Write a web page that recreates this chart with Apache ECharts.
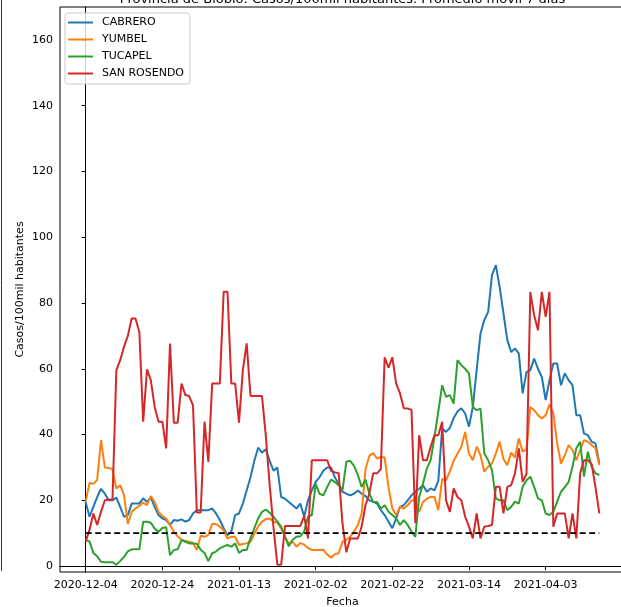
<!DOCTYPE html>
<html>
<head>
<meta charset="utf-8">
<script src="https://cdn.jsdelivr.net/npm/echarts@6/dist/echarts.min.js"></script>
<style>
html, body { margin: 0; padding: 0; background: #fff; }
#chart { width: 621px; height: 607px; }
</style>
</head>
<body>
<div id="chart"></div>
<script>
// ticks del eje x (dias desde 2020-12-04) y sus etiquetas
var tickDias = [0, 20, 40, 60, 80, 100, 120];
var tickFechas = ['2020-12-04', '2020-12-24', '2021-01-13', '2021-02-02', '2021-02-22', '2021-03-14', '2021-04-03'];
var yTicks = [0, 20, 40, 60, 80, 100, 120, 140, 160];
var umbral = 10;
var comunas = ['CABRERO', 'YUMBEL', 'TUCAPEL', 'SAN ROSENDO'];
var colores = ['#1f77b4', '#ff7f0e', '#2ca02c', '#d62728'];

// casos/100mil hab, promedio movil 7 dias, un valor por dia desde 2020-12-04
var cabrero = [
	19.4, 15, 18, 21, 23.5, 22, 20, 20, 20.8, 18,
	15, 15.5, 19, 19, 19, 20.6, 19.5, 20.8, 18, 15.5,
	14.5, 14, 12.5, 14, 13.8, 14.2, 13.5, 14, 16, 17,
	17, 17, 17, 17.5, 16, 14, 11.5, 9.4, 10.5, 15.5,
	16, 19, 23, 27, 32, 36, 34.5, 35.5, 32, 29,
	30, 21, 20.5, 19.5, 18.5, 17.5, 19, 15, 20, 23,
	25.6, 27, 29, 30, 30, 27, 25, 22.6, 22, 21.5,
	22, 23, 22, 21.3, 20, 19.5, 19, 17, 15.5, 13.5,
	11.5, 14.5, 18, 18.5, 20, 21.5, 22.6, 23.5, 24.6, 22.6,
	23.6, 23, 26, 41.8, 40.8, 42, 45, 47, 48, 46.4,
	42.4, 48.4, 59.6, 70.7, 74.8, 77.3, 88.5, 91.5, 84.9, 76.8,
	68.7, 65.1, 66.2, 64.6, 52.5, 59, 59.6, 63.1, 60, 57.5,
	50.5, 56.5, 61.6, 61.6, 55, 58.6, 56.5, 55, 45.9, 45.9,
	40.3, 39.8, 37.8, 37.3, 31.2
];
var yumbel = [
	19.6, 25.3, 25, 26.2, 38.3, 30, 29.8, 29.5, 23.6, 24.6,
	21.6, 12.8, 16.5, 17.5, 18.3, 19.3, 18.5, 21.3, 19.5, 16.5,
	15.2, 14.5, 12.5, 10.5, 9, 8, 7.6, 7.4, 7, 4.9,
	9.2, 8.9, 9.5, 12.8, 12.8, 12, 10.9, 8.4, 8.9, 8.9,
	6.4, 6.7, 6.9, 7.4, 9.9, 12, 13.5, 14.3, 14.5, 13.5,
	13.2, 11.4, 8.9, 6.9, 7.4, 5.9, 7, 6.5, 5.5, 4.9,
	4.9, 4.9, 5, 3.5, 2.5, 3.6, 3.9, 7.4, 8, 8.9,
	10.5, 12.5, 16, 29.5, 33.5, 34.4, 32.7, 33.2, 33, 24,
	17.5, 15.5, 18, 17.5, 18.5, 20, 20, 16.5, 19.5, 20.5,
	21, 21, 17, 26.5, 26.1, 28.7, 32, 34.2, 36.3, 40.8,
	34.2, 32.2, 36.3, 33.7, 28.7, 30.2, 31.2, 34.2, 37.8, 32.5,
	30.7, 34.5, 33, 38.8, 34.8, 35.5, 48.4, 47.4, 45.9, 44.9,
	45.9, 49.2, 46.4, 37.3, 31.2, 33.7, 36.8, 35.3, 32.2, 35.3,
	38.3, 37.8, 36.8, 35.8, 30.7
];
var tucapel = [
	7.9, 7.5, 4, 3, 1.3, 1.2, 1.2, 1.2, 0.4, 1.5,
	2.8, 4.5, 5.1, 5.1, 5.1, 13.5, 13.5, 13.2, 11.4, 10.4,
	11.6, 11.8, 3.3, 4.9, 5.1, 7.9, 7.4, 6.9, 6.9, 6.8,
	5, 4, 1.5, 3.9, 4.4, 5.4, 6, 6.4, 5.9, 6.9,
	4, 4.9, 4.9, 8.5, 11.5, 14.5, 16.5, 17.2, 16.2, 15,
	13.5, 12, 8.9, 6, 8, 8.9, 9.1, 10.5, 15, 15.5,
	25, 22, 21.5, 24, 26.3, 25.6, 24.6, 23.1, 31.7, 32,
	30.5, 27.7, 24.1, 26.3, 22, 19.5, 19.5, 17.5, 18.5, 16.5,
	15.5, 14.5, 12.5, 14, 12.5, 10.5, 8.9, 21, 25, 29.7,
	32.2, 39.3, 47, 55, 51.5, 52, 49.4, 62.6, 61.1, 60,
	58.6, 48.4, 47.4, 47.9, 34.2, 32.2, 29.2, 20.6, 20, 20,
	17, 18, 19.6, 19, 24.1, 26.1, 27.2, 24.1, 20.6, 20,
	16, 15.5, 16.5, 19.6, 22.6, 24, 25.6, 30.2, 35.8, 37.8,
	27.2, 34.8, 30.2, 28.2, 27.7
];
var sanRosendo = [
	7.5, 11, 16, 12.5, 16.5, 20, 20.2, 20.3, 59.6, 62.6,
	66.7, 70, 75.3, 75.3, 71.2, 43.9, 59.8, 56.5, 48.4, 43.9,
	43.9, 35.8, 67.7, 43.6, 43.6, 55.5, 52, 51.7, 48.9, 16.3,
	16.3, 43.9, 31.7, 55.5, 55.5, 55.5, 83.4, 83.4, 55.5, 55.5,
	43.6, 59.6, 67.7, 51.7, 51.7, 51.7, 51.7, 39.5, 24.6, 11.8,
	0.4, 0.4, 12.2, 12.2, 12.2, 12.2, 12.2, 15.2, 8.4, 32.2,
	32.2, 32.2, 32.2, 32.2, 29, 28.5, 28.2, 13, 4.2, 8.4,
	8.4, 8.4, 12, 18.5, 22, 28.2, 28.2, 29.5, 63.5, 60.3,
	63.5, 55.5, 52.5, 48, 47.9, 47.5, 13, 39.8, 32.2, 32.2,
	36.3, 39.8, 39.8, 43.9, 20, 16.5, 23.6, 21, 20, 15,
	12, 8.4, 16, 8.4, 12, 12.2, 12.5, 24.1, 24.1, 16,
	24.1, 24.6, 28.2, 35.8, 25.6, 28, 83.4, 76.3, 71.7, 83.4,
	75.8, 83.4, 12, 16, 16, 16, 8.4, 16, 8.4, 28.2,
	32.2, 32.2, 31, 24, 16
];

var fuente = 'DejaVu Sans';

var aPares = function(valores) {
	var pares = [];
	for (var i = 0; i < valores.length; i++) {
		pares.push([i, valores[i]]);
	}
	return pares;
};

var myChart = echarts.init(document.getElementById('chart'));
var ultimoDia = cabrero.length - 1;
var margen = ultimoDia * 0.05;

var series = [cabrero, yumbel, tucapel, sanRosendo].map(function(valores, k) {
	return {
		name: comunas[k],
		type: 'line',
		data: aPares(valores),
		symbol: 'none',
		lineStyle: { width: 2, color: colores[k] },
		itemStyle: { color: colores[k] },
		z: 2 + k
	};
});
// linea de referencia
series.push({
	name: 'umbral',
	type: 'line',
	data: [[0, umbral], [ultimoDia, umbral]],
	symbol: 'none',
	silent: true,
	lineStyle: { width: 1.7, color: '#000', type: [6, 3.5] },
	z: 10
});

myChart.setOption({
	animation: false,
	title: {
		text: 'Provincia de Biobío: Casos/100mil habitantes. Promedio móvil 7 días',
		left: 342.5,
		top: -7,
		padding: 0,
		textAlign: 'center',
		textStyle: { fontFamily: fuente, fontSize: 13, fontWeight: 'normal', color: '#000' }
	},
	legend: {
		data: comunas,
		orient: 'vertical',
		left: 65,
		top: 13,
		padding: [4, 6, 5, 3],
		icon: 'rect',
		itemWidth: 25,
		itemHeight: 2,
		itemGap: 6,
		backgroundColor: 'rgba(255,255,255,0.8)',
		borderColor: '#cccccc',
		borderWidth: 1,
		borderRadius: 3,
		textStyle: { fontFamily: fuente, fontSize: 11, color: '#000', padding: [0, 0, 0, 4] }
	},
	grid: {
		left: 60,
		top: 7,
		width: 565,
		height: 565,
		show: true,
		borderColor: '#000',
		borderWidth: 1,
		outerBoundsMode: 'none'
	},
	xAxis: {
		type: 'value',
		min: -margen,
		max: ultimoDia + margen,
		name: 'Fecha',
		nameLocation: 'middle',
		nameGap: 25,
		nameMoveOverlap: false,
		nameTextStyle: { fontFamily: fuente, fontSize: 11, color: '#000' },
		splitLine: { show: false },
		axisLine: { lineStyle: { color: '#000', width: 1 } },
		axisTick: { length: 4, lineStyle: { color: '#000' }, customValues: tickDias },
		axisLabel: {
			customValues: tickDias,
			fontFamily: fuente,
			fontSize: 11,
			color: '#000',
			margin: 8,
			formatter: function(v) {
				var i = tickDias.indexOf(v);
				return i >= 0 ? tickFechas[i] : '';
			}
		}
	},
	yAxis: {
		type: 'value',
		min: -1.8,
		max: 170,
		name: 'Casos/100mil habitantes',
		nameLocation: 'middle',
		nameGap: 34,
		nameMoveOverlap: false,
		nameTextStyle: { fontFamily: fuente, fontSize: 11, color: '#000' },
		splitLine: { show: false },
		axisLine: { show: true, lineStyle: { color: '#000', width: 1 } },
		axisTick: { show: true, length: 4, lineStyle: { color: '#000' }, customValues: yTicks },
		axisLabel: { customValues: yTicks, fontFamily: fuente, fontSize: 11, color: '#000', margin: 7 }
	},
	graphic: [{
		type: 'line',
		shape: { x1: 1.5, y1: 0, x2: 1.5, y2: 571 },
		style: { stroke: '#333', lineWidth: 1 },
		silent: true
	}],
	series: series
});
</script>
</body>
</html>
